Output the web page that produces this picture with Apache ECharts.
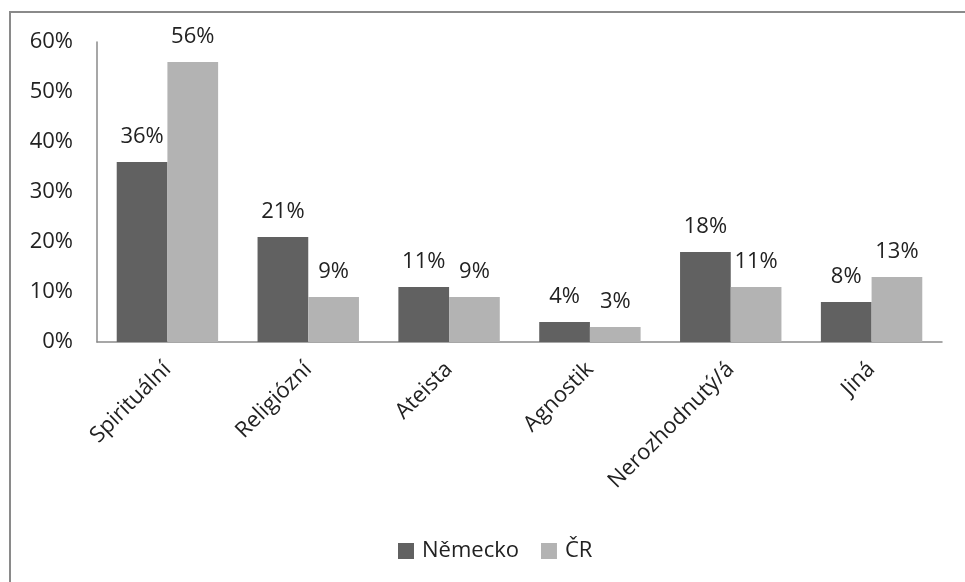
<!DOCTYPE html>
<html><head><meta charset="utf-8">
<script src="https://cdn.jsdelivr.net/npm/echarts@6/dist/echarts.min.js"></script>
<style>html,body{margin:0;padding:0;background:#fff}#c{width:965px;height:582px}</style>
</head><body><div id="c"></div>
<script>
const categories = ['Spirituální','Religiózní','Ateista','Agnostik','Nerozhodnutý/á','Jiná'];
const nemecko = [36,21,11,4,18,8];
const cr = [56,9,9,3,11,13];
const yTicks = [0,10,20,30,40,50,60];
const FONT = '"Open Sans", sans-serif';
const chart = echarts.init(document.getElementById('c'));
const lbl = {show:true, position:'top', distance:14, formatter:'{c}%', color:'#222', fontFamily:FONT, fontSize:22};
chart.setOption({
  animation:false,
  graphic:[{type:'rect', shape:{x:10,y:12,width:1000,height:700}, style:{fill:'none', stroke:'#8a8a8a', lineWidth:2}, silent:true, z:-1}],
  grid:{left:97, right:23, top:42, bottom:240},
  legend:{bottom:20, left:398, padding:0, itemWidth:16, itemHeight:16, itemGap:22, icon:'rect',
    textStyle:{fontFamily:FONT, fontSize:22, color:'#222', padding:[0,0,0,3]}, data:['Německo','ČR']},
  xAxis:{type:'category', data:categories,
    axisLine:{lineStyle:{color:'#8a8a8a', width:1.5}}, axisTick:{show:false},
    axisLabel:{rotate:45, margin:24, color:'#222', fontFamily:FONT, fontSize:22, interval:0}},
  yAxis:{type:'value', min:yTicks[0], max:yTicks[yTicks.length-1], interval:10,
    axisLine:{show:true, lineStyle:{color:'#8a8a8a', width:1.5}}, axisTick:{show:false}, splitLine:{show:false},
    axisLabel:{margin:24, formatter:'{value}%', color:'#222', fontFamily:FONT, fontSize:22}},
  series:[
    {name:'Německo', type:'bar', data:nemecko, barGap:'0%', barCategoryGap:'28%', itemStyle:{color:'#616161'}, label:lbl},
    {name:'ČR', type:'bar', data:cr, barGap:'0%', barCategoryGap:'28%', itemStyle:{color:'#b3b3b3'}, label:lbl}
  ]
});
</script></body></html>
